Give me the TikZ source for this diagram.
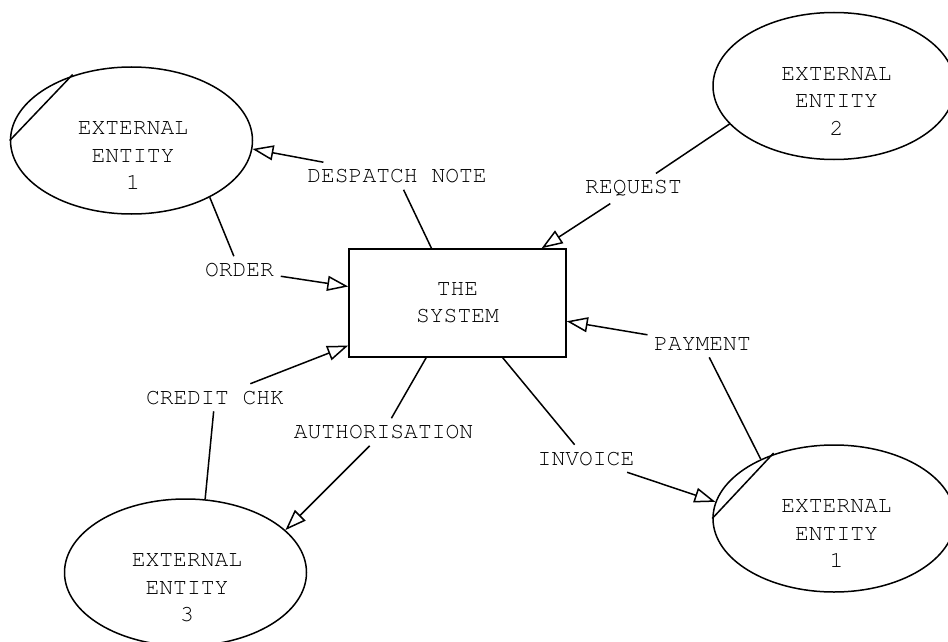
\documentclass[tikz,border=0pt]{standalone}
\usepackage[T1]{fontenc}
\usepackage{courier}
\usetikzlibrary{positioning,arrows.meta,shapes.geometric}

\begin{document}
\begin{tikzpicture}[x=1pt,y=-1pt,line width=1.5pt,
  font=\ttfamily\fontsize{23}{27.5}\selectfont,
  ent/.style={draw,ellipse,minimum width=242pt,minimum height=147pt,inner sep=0pt},
  enttxt/.style={align=center,inner sep=0pt},
  sysbox/.style={draw,rectangle,minimum width=217pt,minimum height=108pt,align=center},
  flow/.style={inner sep=6pt},
  arr/.style={-{Triangle[open,length=21pt,width=15pt]}}]
\useasboundingbox (0,0) rectangle (948,642);
% the system and the external entities
\node[sysbox] (sys) at (457.5,303) {THE\\SYSTEM};
\node[ent] (e1) at (131.5,140.5) {};
\node[ent] (e2) at (834,86) {};
\node[ent] (e3) at (185.5,572.5) {};
\node[ent] (e4) at (834,518.5) {};
\node[enttxt] (e1t) at ([shift={(1.5,15.5)}]e1.center) {EXTERNAL\\ENTITY\\1};
\node[enttxt] (e2t) at ([shift={(2.5,15.5)}]e2.center) {EXTERNAL\\ENTITY\\2};
\node[enttxt] (e3t) at ([shift={(1.5,15.5)}]e3.center) {EXTERNAL\\ENTITY\\3};
\node[enttxt] (e4t) at ([shift={(2.5,15.5)}]e4.center) {EXTERNAL\\ENTITY\\1};
% duplicate markers
\draw[shorten >=-2pt] (e1.west) -- (e1.133);
\draw[shorten >=-2pt] (e4.west) -- (e4.134);
% data flow labels
\node[flow] (dn) at (397,176) {DESPATCH NOTE};
\node[flow] (ord) at (239.5,270) {ORDER};
\node[flow] (req) at (633.5,188.5) {REQUEST};
\node[flow] (pay) at (702.5,344) {PAYMENT};
\node[flow] (cc) at (215,397.5) {CREDIT CHK};
\node[flow] (auth) at (383.5,432) {AUTHORISATION};
\node[flow] (inv) at (586,458.5) {INVOICE};
% data flows
\draw (sys) -- (dn);
\draw[arr] (dn) -- (e1.-4);
\draw (e1.-36) -- (ord);
\draw[arr] (ord) -- (sys);
\draw (e2.200) -- (req);
\draw[arr] (req) -- (sys);
\draw (e4.141) -- (pay);
\draw[arr] (pay) -- (sys);
\draw (e3.75) -- (cc);
\draw[arr] (cc) -- (sys);
\draw (sys) -- (auth);
\draw[arr] (auth) -- (e3.23);
\draw (sys) -- (inv);
\draw[arr] (inv) -- (e4.172);
\end{tikzpicture}
\end{document}
